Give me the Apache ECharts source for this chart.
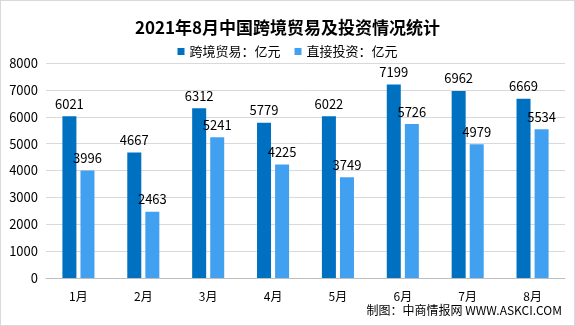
<!DOCTYPE html>
<html><head><meta charset="utf-8">
<script src="https://cdn.jsdelivr.net/npm/echarts@6/dist/echarts.min.js"></script>
<style>html,body{margin:0;padding:0;background:#fff}#c{width:575px;height:326px;box-sizing:border-box;border:1px solid #d9d9d9}</style>
</head><body><div id="c"></div>
<script>
const categories = ['1月','2月','3月','4月','5月','6月','7月','8月'];
const trade = [6021,4667,6312,5779,6022,7199,6962,6669];
const invest = [3996,2463,5241,4225,3749,5726,4979,5534];
const yTicks = [0,1000,2000,3000,4000,5000,6000,7000,8000];
const font = '"Microsoft YaHei","Noto Sans CJK SC",sans-serif';
const chart = echarts.init(document.getElementById('c'));
chart.setOption({
  animation:false,
  textStyle:{fontFamily:font},
  title:{text:'2021年8月中国跨境贸易及投资情况统计',left:'center',top:13,
    textStyle:{fontSize:17,fontWeight:'bold',color:'#000',fontFamily:font}},
  legend:{top:39,left:'center',itemWidth:7,itemHeight:7,itemGap:14,icon:'rect',
    textStyle:{fontSize:13,color:'#000',fontFamily:font},
    data:['跨境贸易：亿元','直接投资：亿元']},
  graphic:[{type:'text',right:12,top:303,style:{text:'制图：中商情报网 WWW.ASKCI.COM',fontSize:12,fill:'#000',fontFamily:font}}],
  grid:{left:45,right:9,top:62,bottom:47},
  xAxis:{type:'category',data:categories,
    axisLine:{lineStyle:{color:'#bfbfbf'}},axisTick:{show:false},
    axisLabel:{fontSize:12,color:'#000',margin:12}},
  yAxis:{type:'value',min:yTicks[0],max:yTicks[yTicks.length-1],interval:1000,
    axisLine:{show:false},axisTick:{show:false},
    axisLabel:{fontSize:13,color:'#000',margin:8,formatter:v=>String(v)},
    splitLine:{lineStyle:{color:'#d9d9d9'}}},
  series:[
    {name:'跨境贸易：亿元',type:'bar',data:trade,barWidth:14,barGap:'29%',
     itemStyle:{color:'#0070C0'},
     label:{show:true,position:'top',distance:6,fontSize:13,color:'#000'}},
    {name:'直接投资：亿元',type:'bar',data:invest,barWidth:14,
     itemStyle:{color:'#42A0F0'},
     label:{show:true,position:'top',distance:6,fontSize:13,color:'#000'}}
  ]
});
</script></body></html>
